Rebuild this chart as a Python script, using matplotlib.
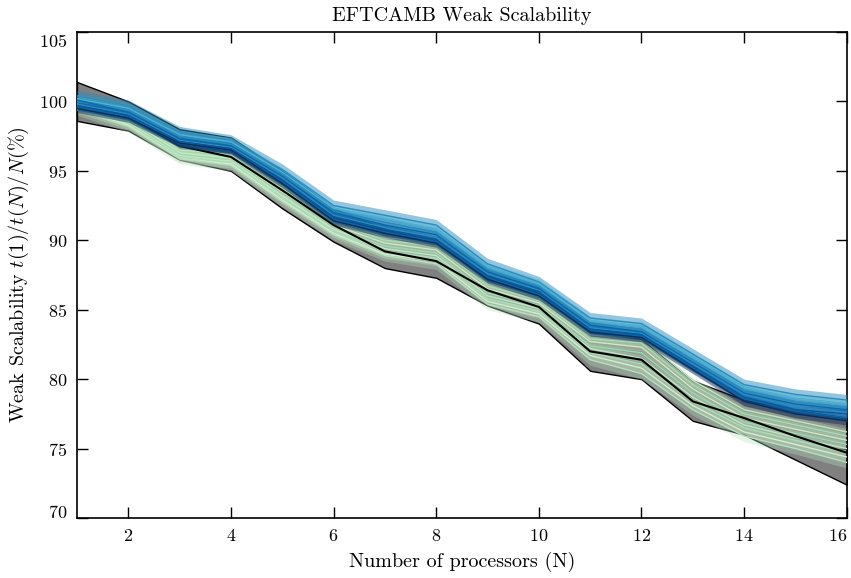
import matplotlib
matplotlib.use("Agg")
import matplotlib.pyplot as plt
import matplotlib.transforms as mtransforms
import numpy as np

plt.rcParams['font.family'] = ['cmr10', 'DejaVu Serif']
plt.rcParams['mathtext.fontset'] = 'cm'
plt.rcParams['axes.unicode_minus'] = False
plt.rcParams['axes.formatter.use_mathtext'] = True

# number of processors
procs = list(range(1, 17))

# mean weak scalability (black line) and its spread (gray band)
mean_line = [100.0, 98.9, 96.8, 96.0, 93.6, 91.1, 89.2, 88.5, 86.4, 85.2, 82.0, 81.4, 78.4, 77.2, 75.9, 74.7]
band_upper = [101.4, 100.0, 98.0, 97.4, 95.0, 92.3, 90.8, 90.2, 87.8, 86.6, 83.4, 82.9, 79.9, 78.5, 77.8, 77.2]
band_lower = [98.6, 97.9, 95.8, 95.0, 92.3, 89.9, 88.0, 87.3, 85.3, 84.0, 80.6, 80.0, 77.0, 76.0, 74.2, 72.4]

# individual runs, light (green) group
green_runs = [
    [100.2, 99.0, 96.5, 96.2, 93.9, 91.5, 90.2, 89.8, 86.9, 85.9, 83.2, 83.0, 79.9, 77.8, 77.0, 76.2],
    [100.0, 98.8, 96.4, 96.0, 93.7, 91.3, 90.0, 89.6, 86.7, 85.7, 82.9, 82.6, 79.6, 77.5, 76.7, 75.9],
    [99.9, 98.7, 96.3, 95.9, 93.5, 91.1, 89.8, 89.3, 86.5, 85.5, 82.7, 82.3, 79.3, 77.2, 76.4, 75.6],
    [99.8, 98.6, 96.2, 95.8, 93.3, 90.9, 89.6, 89.1, 86.2, 85.3, 82.4, 81.9, 79.0, 76.9, 76.1, 75.3],
    [99.7, 98.5, 96.1, 95.7, 93.2, 90.8, 89.4, 88.9, 86.0, 85.1, 82.2, 81.5, 78.7, 76.7, 75.8, 75.0],
    [99.6, 98.4, 96.0, 95.6, 93.0, 90.6, 89.2, 88.7, 85.8, 84.9, 81.9, 81.1, 78.4, 76.5, 75.6, 74.7],
    [99.5, 98.3, 95.9, 95.5, 92.9, 90.5, 89.0, 88.5, 85.6, 84.7, 81.7, 80.8, 78.1, 76.2, 75.3, 74.4],
    [99.4, 98.2, 95.9, 95.4, 92.8, 90.4, 88.9, 88.3, 85.4, 84.5, 81.4, 80.4, 77.8, 75.9, 75.0, 74.0],
]
green_err = [0.25, 0.2, 0.25, 0.2, 0.25, 0.2, 0.3, 0.4]

# individual runs, dark (blue) group
blue_runs = [
    [100.4, 99.7, 97.8, 97.2, 95.1, 92.5, 91.8, 91.1, 88.3, 87.0, 84.4, 84.0, 81.8, 79.6, 78.9, 78.5],
    [100.2, 99.5, 97.6, 97.1, 94.9, 92.3, 91.6, 90.8, 88.1, 86.9, 84.2, 83.8, 81.6, 79.4, 78.6, 78.2],
    [100.0, 99.4, 97.5, 96.9, 94.8, 92.1, 91.3, 90.6, 87.9, 86.7, 84.0, 83.6, 81.4, 79.2, 78.4, 78.0],
    [100.1, 99.2, 97.3, 96.8, 94.6, 92.0, 91.1, 90.4, 87.7, 86.5, 83.9, 83.4, 81.2, 79.0, 78.2, 77.8],
    [99.8, 99.1, 97.2, 96.7, 94.5, 91.8, 90.9, 90.2, 87.6, 86.4, 83.7, 83.3, 81.1, 78.9, 78.0, 77.6],
    [99.7, 99.0, 97.1, 96.6, 94.3, 91.7, 90.8, 90.0, 87.4, 86.3, 83.6, 83.2, 80.9, 78.7, 77.8, 77.5],
    [99.6, 98.9, 97.0, 96.5, 94.2, 91.5, 90.6, 89.9, 87.3, 86.1, 83.5, 83.1, 80.8, 78.6, 77.7, 77.2],
    [99.5, 98.8, 97.0, 96.5, 94.1, 91.4, 90.5, 89.8, 87.2, 86.0, 83.4, 83.0, 80.7, 78.4, 77.5, 77.0],
]
blue_err = [0.4, 0.3, 0.3, 0.25, 0.3, 0.3, 0.25, 0.3]

green_colors = ['#bfe5bf', '#a8ddb5', '#ccebc5', '#9fd8b0', '#c2e6c4', '#a8ddb5', '#d4eecd', '#b5e1bd']
blue_colors = ['#2b8cbe', '#4eb3d3', '#2b8cbe', '#0868ac', '#2b8cbe', '#08589e', '#0868ac', '#0b2f5c']

fig = plt.figure(figsize=(8.51, 5.78), dpi=100)
ax = fig.add_axes([0.0905, 0.1038, 0.9045, 0.8408])

x = np.array(procs)

ax.fill_between(x, band_lower, band_upper, facecolor='#808080', edgecolor='black', linewidth=1.0, zorder=1)

for run, err, c in zip(green_runs, green_err, green_colors):
    r = np.array(run)
    ax.fill_between(x, r - err, r + err, color=c, alpha=0.35, linewidth=0, zorder=2)
    ax.plot(x, r, color=c, lw=1.0, zorder=3)

ax.plot(x, mean_line, color='black', lw=1.5, zorder=4)

for run, err, c in zip(blue_runs, blue_err, blue_colors):
    r = np.array(run)
    ax.fill_between(x, r - err, r + err, color=c, alpha=0.5, linewidth=0, zorder=5)
    ax.plot(x, r, color=c, lw=1.0, zorder=6)

ax.set_xlim(1, 16)
ax.set_ylim(70, 105)
ax.set_xticks([2, 4, 6, 8, 10, 12, 14, 16])
ax.set_yticks([70, 75, 80, 85, 90, 95, 100, 105])
ax.tick_params(direction='in', length=8, width=1, top=True, right=True, labelsize=13, pad=7)
for s in ax.spines.values():
    s.set_linewidth(1.2)

# keep the edge tick labels inside the frame, as in the original
xt = ax.xaxis.get_major_ticks()
xt[-1].label1.set_transform(xt[-1].label1.get_transform() +
                            mtransforms.ScaledTranslation(-9 / 100, 0, fig.dpi_scale_trans))
yt = ax.yaxis.get_major_ticks()
yt[0].label1.set_transform(yt[0].label1.get_transform() +
                           mtransforms.ScaledTranslation(0, 7 / 100, fig.dpi_scale_trans))
yt[-1].label1.set_transform(yt[-1].label1.get_transform() +
                            mtransforms.ScaledTranslation(0, -8 / 100, fig.dpi_scale_trans))

ax.set_title('EFTCAMB Weak Scalability', fontsize=14.5, pad=8)
ax.set_xlabel('Number of processors (N)', fontsize=14.5, labelpad=6)
ax.set_ylabel(r'Weak Scalability $t(1)/t(N)/N(\%)$', fontsize=14.5, labelpad=6)

fig.savefig('out.png', dpi=100)
